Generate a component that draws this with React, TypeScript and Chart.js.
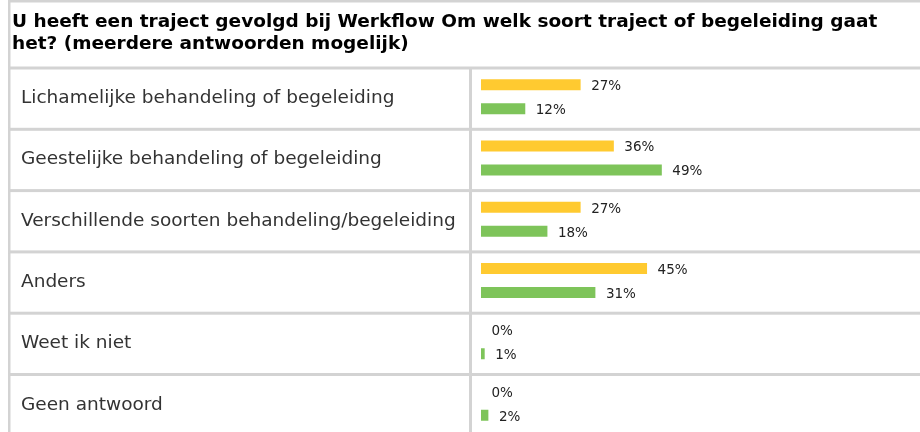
import React, { useEffect, useRef } from "react";
import { Chart, registerables } from "chart.js";

Chart.register(...registerables);

const TITLE_LINES = [
  "U heeft een traject gevolgd bij Werkflow Om welk soort traject of begeleiding gaat",
  "het? (meerdere antwoorden mogelijk)",
];
const CATEGORIES = [
  "Lichamelijke behandeling of begeleiding",
  "Geestelijke behandeling of begeleiding",
  "Verschillende soorten behandeling/begeleiding",
  "Anders",
  "Weet ik niet",
  "Geen antwoord",
];
const SERIES_NAMES = ["Reeks 1", "Reeks 2"];
const SERIES_A = [27, 36, 27, 45, 0, 0];
const SERIES_B = [12, 49, 18, 31, 1, 2];

const FONT = "'DejaVu Sans', Verdana, sans-serif";
const GRID = "#D3D3D3";
const ROW_H = 61.3;
const CANVAS_W = 920;
const CANVAS_H = 440;
const TOP = 66;

const tablePlugin = {
  id: "tablePlugin",
  beforeDraw(chart: any) {
    const ctx = chart.ctx;
    const ys = chart.scales.y;
    ctx.save();
    ctx.fillStyle = "#fff";
    ctx.fillRect(0, 0, chart.width, chart.height);
    ctx.fillStyle = GRID;
    ctx.fillRect(8, 0, chart.width - 8, 2.5);
    ctx.fillRect(8, 0, 2.5, chart.height);
    const rowH = ys.getPixelForValue(1) - ys.getPixelForValue(0);
    const firstLine = ys.getPixelForValue(0) - rowH / 2 + 2;
    for (let k = 0; k <= CATEGORIES.length; k++) {
      const yk = ys.getPixelForValue(k) - rowH / 2 + 2;
      ctx.fillRect(8, yk - 1.5, chart.width - 8, 3);
    }
    ctx.fillRect(469, firstLine, 3, chart.height - firstLine);

    ctx.fillStyle = "#000";
    ctx.font = `bold 18.5px ${FONT}`;
    ctx.textBaseline = "alphabetic";
    ctx.textAlign = "left";
    ctx.fillText(TITLE_LINES[0], 12, 27);
    ctx.fillText(TITLE_LINES[1], 12, 49);

    ctx.fillStyle = "#333";
    ctx.font = `18.5px ${FONT}`;
    CATEGORIES.forEach((c, i) => {
      ctx.fillText(c, 21, ys.getPixelForValue(i) + 6.5);
    });
    ctx.restore();
  },
  afterDatasetsDraw(chart: any) {
    const ctx = chart.ctx;
    ctx.save();
    ctx.fillStyle = "#222";
    ctx.font = `13.5px ${FONT}`;
    ctx.textBaseline = "alphabetic";
    ctx.textAlign = "left";
    chart.data.datasets.forEach((ds: any, di: number) => {
      const meta = chart.getDatasetMeta(di);
      meta.data.forEach((el: any, j: number) => {
        ctx.fillText(`${ds.data[j]}%`, el.x + 10.5, el.y + 5.5);
      });
    });
    ctx.restore();
  },
};

export default function App() {
  const ref = useRef<HTMLCanvasElement>(null);
  useEffect(() => {
    if (!ref.current) return;
    const chart = new Chart(ref.current, {
      type: "bar",
      data: {
        labels: CATEGORIES,
        datasets: [
          {
            label: SERIES_NAMES[0],
            data: SERIES_A,
            backgroundColor: "#FFCA30",
            categoryPercentage: 48 / ROW_H,
            barPercentage: 11 / 24,
          },
          {
            label: SERIES_NAMES[1],
            data: SERIES_B,
            backgroundColor: "#7EC45A",
            categoryPercentage: 48 / ROW_H,
            barPercentage: 11 / 24,
          },
        ],
      },
      options: {
        indexAxis: "y",
        animation: false,
        responsive: false,
        devicePixelRatio: 1,
        layout: {
          padding: {
            left: 481,
            right: CANVAS_W - 850,
            top: TOP,
            bottom: CANVAS_H - TOP - ROW_H * CATEGORIES.length,
          },
        },
        scales: {
          x: { display: false, min: 0, max: 100 },
          y: { display: false },
        },
        plugins: {
          legend: { display: false },
          tooltip: { enabled: false },
          title: { display: false },
        },
      },
      plugins: [tablePlugin],
    } as any);
    return () => chart.destroy();
  }, []);
  return (
    <div
      style={{
        position: "fixed",
        left: 0,
        top: 0,
        width: CANVAS_W,
        height: 432,
        overflow: "hidden",
        background: "#fff",
      }}
    >
      <canvas ref={ref} width={CANVAS_W} height={CANVAS_H} style={{ display: "block" }} />
    </div>
  );
}
